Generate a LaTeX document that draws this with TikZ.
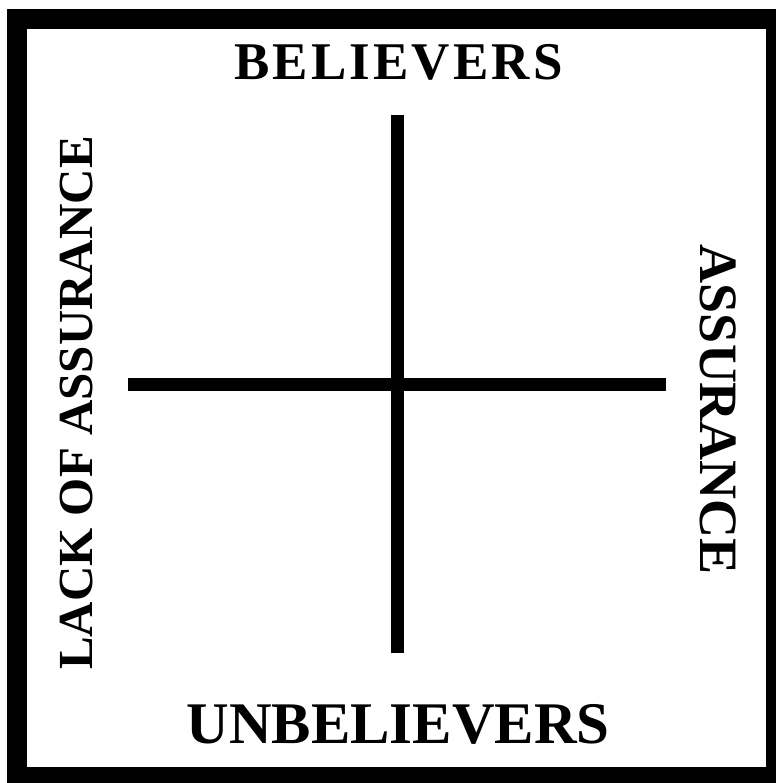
\documentclass[tikz,border=0pt]{standalone}
\usepackage{fontspec}
\setmainfont{Liberation Serif}
\newfontfamily\spacedfont[LetterSpace=6]{Liberation Serif}
\usepackage{tikz}

\begin{document}
\begin{tikzpicture}[
  x=1pt, y=-1pt,
  axis/.style={line width=13pt, draw=black},
  hlbl/.style={inner sep=0pt, anchor=base, font=\bfseries\fontsize{59}{62}\selectfont},
  vlbl/.style={inner sep=0pt, anchor=base, font=\bfseries\fontsize{49}{52}\selectfont}
]
\useasboundingbox (0,0) rectangle (776,783);
%% -- frame -------------------------------------------------------------
\fill[black] (7,9) rectangle (776,783);
\fill[white] (27,29) rectangle (766,767);
%% -- axis end points -----------------------------------------------------
\coordinate (top)    at (397,115);
\coordinate (bottom) at (397,653);
\coordinate (left)   at (128,384);
\coordinate (right)  at (666,384);
%% -- labels ---------------------------------------------------------------
\node[hlbl, font=\spacedfont\bfseries\fontsize{53}{56}\selectfont] (bel) at (398.5,80) {BELIEVERS};
\node[hlbl] (unbel) at (398,743)  {UNBELIEVERS};
\node[vlbl, rotate=90] (lack) at (92,403) {LACK OF ASSURANCE};
\node[vlbl, rotate=-90, font=\bfseries\fontsize{54}{56}\selectfont] (assur) at (700,410) {ASSURANCE};
%% -- axes ------------------------------------------------------------------
\draw[axis] (top) -- (bottom);
\draw[axis] (left) -- (right);
\end{tikzpicture}
\end{document}
